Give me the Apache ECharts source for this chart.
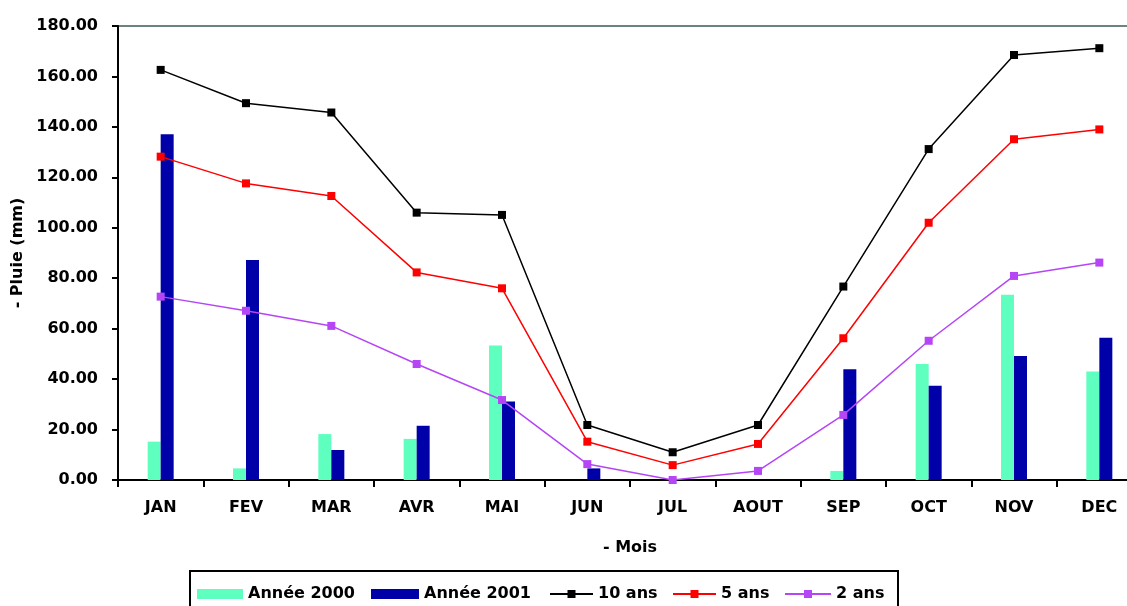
<!DOCTYPE html>
<html>
<head>
<meta charset="utf-8">
<script src="https://cdn.jsdelivr.net/npm/echarts@6/dist/echarts.min.js"></script>
<style>
  html, body { margin: 0; padding: 0; background: #fff; }
  #chart { width: 1127px; height: 606px; }
</style>
</head>
<body>
<div id="chart"></div>
<script>
// Monthly rainfall (mm): observed years and return-period values
const months = ['JAN', 'FEV', 'MAR', 'AVR', 'MAI', 'JUN', 'JUL', 'AOUT', 'SEP', 'OCT', 'NOV', 'DEC'];
const annee2000 = [15.2, 4.6, 18.2, 16.3, 53.3, 0, 0, 0, 3.6, 46.0, 73.4, 43.0];
const annee2001 = [137.1, 87.2, 11.9, 21.5, 31.1, 4.6, 0, 0, 43.9, 37.4, 49.2, 56.4];
const ans10 = [162.6, 149.4, 145.7, 106.0, 105.1, 21.8, 11.0, 21.8, 76.7, 131.2, 168.5, 171.2];
const ans5 = [128.2, 117.6, 112.6, 82.3, 76.0, 15.2, 5.9, 14.3, 56.2, 102.0, 135.1, 139.0];
const ans2 = [72.7, 67.1, 61.1, 46.0, 31.7, 6.3, 0, 3.6, 25.8, 55.2, 80.9, 86.2];
const yTicks = { min: 0, max: 180, interval: 20 };

const FONT = 'DejaVu Sans';
const textBase = { fontFamily: FONT, fontSize: 16, fontWeight: 'bold', color: '#000' };

function lineSeries(name, data, color) {
  return {
    name: name,
    type: 'line',
    data: data,
    symbol: 'rect',
    symbolSize: 8,
    lineStyle: { color: color, width: 1.5 },
    itemStyle: { color: color },
    z: 3
  };
}

function legendAt(name, left, width, icon) {
  const l = {
    data: [name],
    left: left,
    top: 586,
    padding: 0,
    itemWidth: width,
    itemHeight: 10,
    textStyle: Object.assign({}, textBase),
    selectedMode: false
  };
  if (icon) l.icon = icon;
  return l;
}

const chart = echarts.init(document.getElementById('chart'), null, { renderer: 'canvas' });
chart.setOption({
  backgroundColor: '#fff',
  animation: false,
  grid: {
    left: 118,
    top: 26,
    width: 1024,
    height: 454,
    show: true,
    borderColor: '#6E8282',
    borderWidth: 2,
    containLabel: false,
    outerBoundsMode: 'none'
  },
  legend: [
    legendAt('Année 2000', 197, 46, 'rect'),
    legendAt('Année 2001', 371, 48, 'rect'),
    legendAt('10 ans', 549, 43),
    legendAt('5 ans', 672, 43),
    legendAt('2 ans', 784, 46)
  ],
  graphic: [{
    type: 'rect',
    shape: { x: 190, y: 571, width: 708, height: 40 },
    style: { fill: 'none', stroke: '#000', lineWidth: 2 },
    z: -1
  }],
  xAxis: {
    type: 'category',
    data: months,
    name: '- Mois',
    nameLocation: 'middle',
    nameGap: 60,
    nameTextStyle: Object.assign({}, textBase),
    axisLine: { lineStyle: { color: '#000', width: 2 } },
    axisTick: { show: true, length: 7, lineStyle: { color: '#000', width: 2 } },
    axisLabel: Object.assign({ margin: 20, interval: 0 }, textBase),
    splitLine: { show: false }
  },
  yAxis: {
    type: 'value',
    min: yTicks.min,
    max: yTicks.max,
    interval: yTicks.interval,
    name: '- Pluie (mm)',
    nameLocation: 'middle',
    nameGap: 90,
    nameRotate: 90,
    nameTextStyle: Object.assign({}, textBase),
    axisLine: { show: true, lineStyle: { color: '#000', width: 2 } },
    axisTick: { show: true, length: 6, lineStyle: { color: '#000', width: 2 } },
    axisLabel: Object.assign({ margin: 20, formatter: v => v.toFixed(2) }, textBase),
    splitLine: { show: false }
  },
  series: [
    {
      name: 'Année 2000',
      type: 'bar',
      data: annee2000,
      barWidth: 13,
      barGap: '0%',
      itemStyle: { color: '#5FFFBF' },
      z: 2
    },
    {
      name: 'Année 2001',
      type: 'bar',
      data: annee2001,
      barWidth: 13,
      barGap: '0%',
      itemStyle: { color: '#0000A8' },
      z: 2
    },
    lineSeries('10 ans', ans10, '#000000'),
    lineSeries('5 ans', ans5, '#FF0000'),
    lineSeries('2 ans', ans2, '#B545F5')
  ]
});
</script>
</body>
</html>
